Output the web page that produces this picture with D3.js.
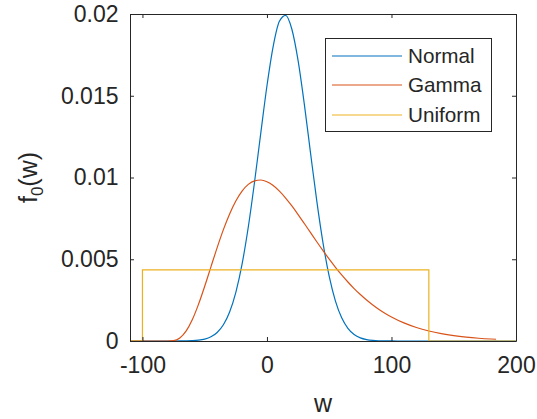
<!DOCTYPE html>
<html><head><meta charset="utf-8">
<script src="https://cdn.jsdelivr.net/npm/d3@7"></script>
<style>
html,body{margin:0;padding:0;background:#fff;}
svg{display:block;}
text{font-family:"Liberation Sans",Arial,Helvetica,sans-serif;fill:#262626;}
</style></head>
<body>
<svg id="c" width="537" height="419"></svg>
<script>
const xTicks = [-100, 0, 100, 200];
const yTicks = [0, 0.005, 0.01, 0.015, 0.02];
const yTickLabels = ["0", "0.005", "0.01", "0.015", "0.02"];
const seriesNames = ["Normal", "Gamma", "Uniform"];
const seriesColors = ["#0072BD", "#D95319", "#EDB120"];

const normalW = [-110,-100,-90,-80,-70,-65,-60,-55,-50,-45,-40,-35,-30,-25,-20,-15,-10,-5,0,5,10,15,20,25,30,35,40,45,50,55,60,65,70,75,80,85,90,95,100,110,120,130,140,150,160,170,180,190,200];
const normalF = [0,0,0,0,0.000002,0.000008,0.0000212,0.0000519,0.000119,0.000257,0.000521,0.000992,0.001774,0.002980,0.004702,0.006972,0.009710,0.012702,0.015612,0.018026,0.019552,0.019922,0.019069,0.017147,0.014484,0.011494,0.008569,0.006002,0.003948,0.002440,0.001416,0.000773,0.000396,0.000190,0.0000861,0.0000366,0.0000146,0.000005,0.000002,0,0,0,0,0,0,0,0,0,0];

const gammaW = [-110,-100,-90,-80,-75,-70,-65,-60,-55,-50,-45,-40,-35,-30,-25,-20,-15,-10,-5,0,5,10,15,20,25,30,35,40,45,50,55,60,65,70,75,80,85,90,95,100,110,120,130,140,150,160,170,180,184];
const gammaF = [0,0,0,0,0.0000206,0.000184,0.000602,0.001301,0.002242,0.003350,0.004535,0.005712,0.006810,0.007773,0.008566,0.009168,0.009578,0.009798,0.009847,0.009742,0.009508,0.009168,0.008745,0.008260,0.007735,0.007185,0.006627,0.006071,0.005528,0.005006,0.004510,0.004043,0.003609,0.003207,0.002840,0.002505,0.002202,0.001930,0.001686,0.001469,0.001106,0.000825,0.000610,0.000447,0.000325,0.000235,0.000169,0.000121,0.000106];

const uniformW = [-110,-100,-100,130,130,200];
const uniformF = [0,0,0.004348,0.004348,0,0];

const svg = d3.select("#c");
const L = 130, R = 516, T = 14, B = 341;
const x = d3.scaleLinear().domain([-110, 200]).range([L, R]);
const y = d3.scaleLinear().domain([0, 0.02]).range([B, T]);

const fs = 23, legFs = 20.7, labFs = 25;
const axisColor = "#262626";

// series
const line = d3.line().x(d => x(d[0])).y(d => y(d[1])).curve(d3.curveMonotoneX);
const lineLin = d3.line().x(d => x(d[0])).y(d => y(d[1]));
const plotG = svg.append("g");
plotG.append("path").datum(normalW.map((w,i)=>[w,normalF[i]]))
  .attr("d", line).attr("fill","none").attr("stroke",seriesColors[0]).attr("stroke-width",1.2);
plotG.append("path").datum(gammaW.map((w,i)=>[w,gammaF[i]]))
  .attr("d", line).attr("fill","none").attr("stroke",seriesColors[1]).attr("stroke-width",1.2);
plotG.append("path").datum(uniformW.map((w,i)=>[w,uniformF[i]]))
  .attr("d", lineLin).attr("fill","none").attr("stroke",seriesColors[2]).attr("stroke-width",1.2);

// axes
function styleAxis(g){
  g.select(".domain").attr("stroke",axisColor).attr("stroke-width",1);
  g.selectAll(".tick line").attr("stroke",axisColor).attr("stroke-width",1);
  g.selectAll(".tick text").attr("font-size",fs).attr("fill",axisColor)
   .style("font-family",'"Liberation Sans",Arial,Helvetica,sans-serif');
}
const xAxis = svg.append("g").attr("transform",`translate(0,${B})`)
  .call(d3.axisBottom(x).tickValues(xTicks).tickFormat(d=>String(d)).tickSize(-4).tickSizeOuter(0).tickPadding(16));
styleAxis(xAxis);
const xAxisTop = svg.append("g").attr("transform",`translate(0,${T})`)
  .call(d3.axisTop(x).tickValues(xTicks).tickFormat("").tickSize(-4).tickSizeOuter(0));
styleAxis(xAxisTop);
const yAxis = svg.append("g").attr("transform",`translate(${L},0)`)
  .call(d3.axisLeft(y).tickValues(yTicks).tickFormat((d,i)=>yTickLabels[i]).tickSize(-4).tickSizeOuter(0).tickPadding(11.5));
styleAxis(yAxis);
const yAxisR = svg.append("g").attr("transform",`translate(${R},0)`)
  .call(d3.axisRight(y).tickValues(yTicks).tickFormat("").tickSize(-4).tickSizeOuter(0));
styleAxis(yAxisR);

// axis labels
svg.append("text").attr("x",(L+R)/2).attr("y",412).attr("text-anchor","middle")
  .attr("font-size",labFs).text("w");
const yl = svg.append("text").attr("transform",`translate(37,${(T+B)/2}) rotate(-90)`)
  .attr("text-anchor","middle").attr("font-size",labFs);
yl.append("tspan").text("f");
yl.append("tspan").attr("font-size",17).attr("dy",6).text("0");
yl.append("tspan").attr("dy",-6).text("(w)");

// legend
const lg = svg.append("g");
lg.append("rect").attr("x",325.5).attr("y",38.5).attr("width",166).attr("height",93)
  .attr("fill","#fff").attr("stroke",axisColor).attr("stroke-width",1);
const rowsY = [56, 85, 115];
seriesNames.forEach((n,i)=>{
  lg.append("line").attr("x1",332).attr("x2",402).attr("y1",rowsY[i]).attr("y2",rowsY[i])
    .attr("stroke",seriesColors[i]).attr("stroke-width",1.2);
  lg.append("text").attr("x",408).attr("y",rowsY[i]).attr("dy","0.35em").attr("font-size",legFs).text(n);
});
</script>
</body></html>
